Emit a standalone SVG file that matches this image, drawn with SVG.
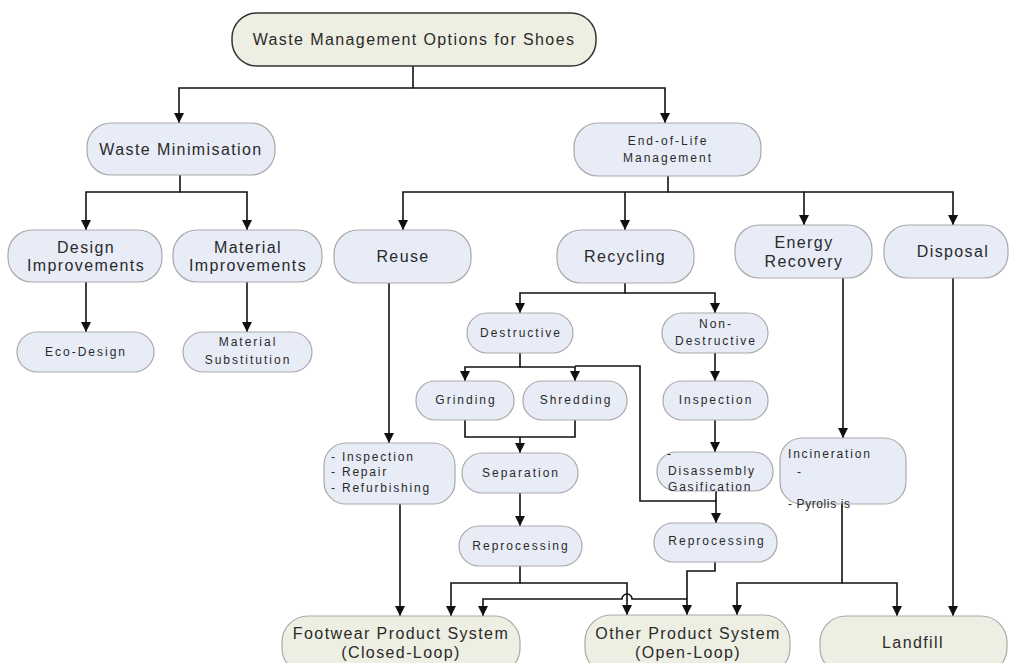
<svg xmlns="http://www.w3.org/2000/svg" width="1009" height="663" viewBox="0 0 1009 663">
<style>
.b{fill:#E8ECF7;stroke:#A9A9A9;stroke-width:1.2}
.g{fill:#EEEFE3;stroke:#A9A9A9;stroke-width:1.2}
.t{fill:#EEEFE3;stroke:#333;stroke-width:1.5}
.L{font-family:"Liberation Sans",Arial,sans-serif;font-size:16px;letter-spacing:1.4px;fill:#2a2a2a;text-anchor:middle}
.S{font-family:"Liberation Sans",Arial,sans-serif;font-size:12px;letter-spacing:2px;fill:#2a2a2a;text-anchor:middle}
.SL{font-family:"Liberation Sans",Arial,sans-serif;font-size:12px;letter-spacing:1.8px;fill:#2a2a2a}
.c path{fill:none;stroke:#111;stroke-width:1.6}
</style>
<defs>
<marker id="a" markerUnits="userSpaceOnUse" markerWidth="10" markerHeight="10" refX="10" refY="5" orient="auto">
<path d="M0,0 L10,5 L0,10 z" fill="#111"/>
</marker>
</defs>
<rect width="1009" height="663" fill="#fff"/>
<g class="c">
<path d="M413,66 V88 H179 V123" marker-end="url(#a)"/>
<path d="M413,88 H665 V123" marker-end="url(#a)"/>
<path d="M180,175 V192 H86 V230" marker-end="url(#a)"/>
<path d="M180,192 H247 V230" marker-end="url(#a)"/>
<path d="M86,282 V332" marker-end="url(#a)"/>
<path d="M247,282 V332" marker-end="url(#a)"/>
<path d="M668,176 V192 H403 V230" marker-end="url(#a)"/>
<path d="M625,192 V230" marker-end="url(#a)"/>
<path d="M668,192 H804 V225" marker-end="url(#a)"/>
<path d="M804,192 H953 V225" marker-end="url(#a)"/>
<path d="M389,283 V443" marker-end="url(#a)"/>
<path d="M625,283 V293 H520 V313" marker-end="url(#a)"/>
<path d="M625,293 H715 V313" marker-end="url(#a)"/>
<path d="M520,353 V367 H465 V381" marker-end="url(#a)"/>
<path d="M520,367 H575 V381" marker-end="url(#a)"/>
<path d="M575,366 H640 V501 H716 V523" marker-end="url(#a)"/>
<path d="M465,420 V437 H575 V420"/>
<path d="M520,437 V453" marker-end="url(#a)"/>
<path d="M520,493 V526" marker-end="url(#a)"/>
<path d="M715,353 V381" marker-end="url(#a)"/>
<path d="M715,420 V452" marker-end="url(#a)"/>
<path d="M716,491 V501"/>
<path d="M400,504 V616" marker-end="url(#a)"/>
<path d="M520,566 V583 H451 V616" marker-end="url(#a)"/>
<path d="M520,583 H627 V615" marker-end="url(#a)"/>
<path d="M715,562 V571 H687 V615" marker-end="url(#a)"/>
<path d="M687,599 H632 A5,5 0 0 0 622,599 H483 V616" marker-end="url(#a)"/>
<path d="M843,278 V438" marker-end="url(#a)"/>
<path d="M842,504 V583 H737 V615" marker-end="url(#a)"/>
<path d="M842,583 H897 V616" marker-end="url(#a)"/>
<path d="M953,278 V616" marker-end="url(#a)"/>
</g>
<g id="root"><rect class="t" x="232" y="13" width="364" height="53" rx="25"/><text class="L" x="414" y="45">Waste Management Options for Shoes</text></g>
<g id="waste-min"><rect class="b" x="87" y="123" width="188" height="52" rx="24"/><text class="L" x="181" y="154.5">Waste Minimisation</text></g>
<g id="eol"><rect class="b" x="574" y="123" width="187" height="53" rx="24"/><text class="S" x="668" y="145">End-of-Life</text><text class="S" x="668" y="162">Management</text></g>
<g id="design"><rect class="b" x="8" y="230" width="154" height="52" rx="24"/><text class="L" x="86" y="252.5">Design</text><text class="L" x="86" y="270.5">Improvements</text></g>
<g id="material"><rect class="b" x="173" y="230" width="149" height="52" rx="24"/><text class="L" x="248" y="252.5">Material</text><text class="L" x="248" y="270.5">Improvements</text></g>
<g id="eco"><rect class="b" x="17" y="332" width="137" height="40" rx="20"/><text class="S" x="86" y="356">Eco-Design</text></g>
<g id="subst"><rect class="b" x="183" y="332" width="129" height="40" rx="20"/><text class="S" x="248" y="346">Material</text><text class="S" x="248" y="364">Substitution</text></g>
<g id="reuse"><rect class="b" x="334" y="230" width="137" height="53" rx="24"/><text class="L" x="403" y="261.5">Reuse</text></g>
<g id="recycling"><rect class="b" x="557" y="230" width="137" height="53" rx="24"/><text class="L" x="625" y="261.5">Recycling</text></g>
<g id="energy"><rect class="b" x="735" y="225" width="137" height="53" rx="24"/><text class="L" x="804" y="247.5">Energy</text><text class="L" x="804" y="266.5">Recovery</text></g>
<g id="disposal"><rect class="b" x="884" y="225" width="124" height="53" rx="24"/><text class="L" x="953" y="256.5">Disposal</text></g>
<g id="destructive"><rect class="b" x="467" y="313" width="106" height="40" rx="20"/><text class="S" x="521" y="337">Destructive</text></g>
<g id="nondestructive"><rect class="b" x="662" y="313" width="106" height="40" rx="20"/><text class="S" x="716" y="328">Non-</text><text class="S" x="716" y="345">Destructive</text></g>
<g id="grinding"><rect class="b" x="416" y="381" width="98" height="39" rx="19"/><text class="S" x="466" y="404">Grinding</text></g>
<g id="shredding"><rect class="b" x="523" y="381" width="104" height="39" rx="19"/><text class="S" x="576" y="404">Shredding</text></g>
<g id="separation"><rect class="b" x="462" y="453" width="116" height="40" rx="20"/><text class="S" x="521" y="477">Separation</text></g>
<g id="reproc-l"><rect class="b" x="459" y="526" width="123" height="40" rx="20"/><text class="S" x="521" y="550">Reprocessing</text></g>
<g id="inspection"><rect class="b" x="663" y="381" width="105" height="39" rx="19"/><text class="S" x="716" y="404">Inspection</text></g>
<g id="disassembly"><rect class="b" x="657" y="452" width="116" height="39" rx="19"/><text class="SL" x="667" y="458">-</text><text class="SL" x="668" y="475">Disassembly</text><text class="SL" x="668" y="491">Gasification</text></g>
<g id="reproc-r"><rect class="b" x="654" y="523" width="123" height="39" rx="19"/><text class="S" x="717" y="545">Reprocessing</text></g>
<g id="irr"><rect class="b" x="324" y="443" width="131" height="61" rx="22"/><text class="SL" x="331" y="461">- Inspection</text><text class="SL" x="331" y="476">- Repair</text><text class="SL" x="331" y="492">- Refurbishing</text></g>
<g id="incineration"><rect class="b" x="780" y="438" width="126" height="66" rx="22"/><text class="SL" x="788" y="458">Incineration</text><text class="SL" x="797" y="476">-</text><text class="SL" x="788" y="508" style="letter-spacing:0.6px">- Pyrolis is</text></g>
<g id="footwear"><rect class="g" x="282" y="616" width="238" height="58" rx="26"/><text class="L" x="401" y="638.5">Footwear Product System</text><text class="L" x="401" y="657.5">(Closed-Loop)</text></g>
<g id="other"><rect class="g" x="585" y="615" width="205" height="59" rx="26"/><text class="L" x="688" y="638.5">Other Product System</text><text class="L" x="688" y="657.5">(Open-Loop)</text></g>
<g id="landfill"><rect class="g" x="820" y="616" width="187" height="58" rx="26"/><text class="L" x="913" y="647.5">Landfill</text></g>
</svg>
